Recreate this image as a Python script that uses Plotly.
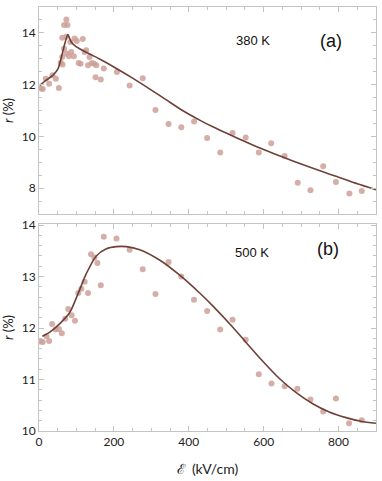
import plotly.graph_objects as go
from plotly.subplots import make_subplots

# (a) 380 K : measured points
field_a = [5, 10, 18, 27, 36, 45, 53, 58, 62, 63, 67, 62, 67, 73, 76, 73, 73, 80, 84, 86,
           93, 95, 101, 106, 111, 117, 122, 126, 131, 135, 141, 147, 153, 151, 165, 173,
           208, 242, 277, 311, 346, 380, 414, 449, 484, 517, 552, 587, 620, 656, 691, 725,
           759, 793, 829, 862]
r_a = [11.85, 11.83, 12.23, 12.03, 12.36, 12.23, 11.87, 12.85, 13.07, 12.78, 13.39, 13.81,
       14.30, 14.52, 14.30, 13.85, 13.20, 13.10, 13.65, 13.26, 13.10, 13.78, 13.69, 12.84,
       12.81, 13.76, 13.26, 13.33, 12.75, 13.07, 12.84, 12.81, 12.75, 12.29, 12.20, 12.62,
       12.49, 11.97, 12.25, 11.02, 10.48, 10.35, 10.58, 9.94, 9.38, 10.13, 9.96, 9.38,
       9.73, 9.24, 8.21, 7.92, 8.85, 8.24, 7.79, 7.89]

# (a) model curve
fit_field_a = [2, 20, 37, 51, 60, 69, 77, 86, 100, 130, 162, 200, 251, 300, 340, 380, 429,
               464, 510, 553, 600, 656, 700, 760, 793, 850, 900]
fit_r_a = [11.97, 12.18, 12.36, 12.62, 13.07, 13.59, 13.94, 13.65, 13.46, 13.22, 12.99,
           12.68, 12.24, 11.79, 11.41, 11.03, 10.63, 10.37, 10.06, 9.78, 9.49, 9.17, 8.93,
           8.62, 8.46, 8.17, 7.94]

# (b) 500 K : measured points
field_b = [4, 10, 20, 27, 35, 44, 53, 61, 70, 78, 87, 96, 105, 113, 122, 131, 139, 148, 156,
           165, 173, 207, 242, 277, 311, 346, 380, 414, 449, 484, 517, 552, 587, 621, 656,
           690, 725, 759, 793, 828, 862]
r_b = [11.74, 11.73, 11.84, 11.75, 12.08, 11.97, 11.98, 11.90, 12.18, 12.37, 12.25, 12.14,
       12.68, 12.76, 12.90, 12.68, 13.43, 13.37, 13.26, 12.83, 13.77, 13.74, 13.52, 13.14,
       12.66, 13.28, 13.00, 12.55, 12.33, 11.97, 12.16, 11.77, 11.10, 10.92, 10.87, 10.82,
       10.61, 10.38, 10.63, 10.15, 10.21]

# (b) model curve
fit_field_b = [9, 29, 55, 82, 104, 126, 153, 180, 206, 233, 269, 322, 375, 429, 464, 517,
               553, 597, 642, 686, 731, 775, 820, 860, 900]
fit_r_b = [11.84, 11.92, 12.08, 12.30, 12.66, 13.05, 13.40, 13.54, 13.58, 13.58, 13.52,
           13.32, 13.03, 12.68, 12.43, 12.02, 11.72, 11.36, 11.02, 10.75, 10.53, 10.37,
           10.26, 10.19, 10.15]

dot_color = "rgba(205,160,152,0.85)"
line_color = "#6e4038"
frame = "#c4c4c4"
tick_font = dict(family="Lato, Open Sans, sans-serif", size=12, color="#222")
title_font = dict(family="Lato, Open Sans, sans-serif", size=13, color="#222")

fig = make_subplots(rows=2, cols=1, vertical_spacing=0.0235)

fig.add_trace(go.Scatter(x=field_a, y=r_a, mode="markers",
                         marker=dict(size=6, color=dot_color)), row=1, col=1)
fig.add_trace(go.Scatter(x=fit_field_a, y=fit_r_a, mode="lines",
                         line=dict(color=line_color, width=1.6, shape="spline", smoothing=0.6)),
              row=1, col=1)
fig.add_trace(go.Scatter(x=field_b, y=r_b, mode="markers",
                         marker=dict(size=6, color=dot_color)), row=2, col=1)
fig.add_trace(go.Scatter(x=fit_field_b, y=fit_r_b, mode="lines",
                         line=dict(color=line_color, width=1.6, shape="spline", smoothing=0.8)),
              row=2, col=1)

axis_common = dict(showline=True, linecolor=frame, linewidth=1, mirror="ticks",
                   ticks="inside", ticklen=5, tickcolor=frame, showgrid=False,
                   zeroline=False, tickfont=tick_font, automargin=False)

fig.update_xaxes(range=[0, 900], dtick=200, tick0=0,
                 minor=dict(dtick=50, ticks="inside", ticklen=3, tickcolor=frame),
                 **axis_common)
fig.update_xaxes(showticklabels=False, row=1, col=1)
fig.update_xaxes(title=dict(text="ℰ  (kV/cm)", font=dict(title_font, size=14)),
                 row=2, col=1)

fig.update_yaxes(range=[7, 15], dtick=2, tick0=0,
                 minor=dict(dtick=0.5, ticks="inside", ticklen=3, tickcolor=frame),
                 row=1, col=1, **axis_common)
fig.update_yaxes(range=[10, 14.02], dtick=1, tick0=0,
                 minor=dict(dtick=0.2, ticks="inside", ticklen=3, tickcolor=frame),
                 row=2, col=1, **axis_common)
fig.update_yaxes(title=dict(text="<i>r</i> (%)", font=title_font))

fig.update_layout(
    width=382, height=481,
    margin=dict(l=39, r=6, t=7, b=50, autoexpand=False),
    showlegend=False,
    plot_bgcolor="white", paper_bgcolor="white",
    annotations=[
        dict(text="380 K", x=0.636, y=0.943, xref="paper", yref="paper", showarrow=False,
             font=dict(family="Arial, Liberation Sans", size=13, color="#111")),
        dict(text="(a)", x=0.905, y=0.948, xref="paper", yref="paper", showarrow=False,
             font=dict(family="Arial, Liberation Sans", size=18, color="#111")),
        dict(text="500 K", x=0.631, y=0.421, xref="paper", yref="paper", showarrow=False,
             font=dict(family="Arial, Liberation Sans", size=13, color="#111")),
        dict(text="(b)", x=0.896, y=0.430, xref="paper", yref="paper", showarrow=False,
             font=dict(family="Arial, Liberation Sans", size=18, color="#111")),
    ],
)

# drop the page's default body margin so the figure sits at the window corner
fig.write_html("out.html", config={"displayModeBar": False},
               post_script="document.body.style.margin='0px';")
